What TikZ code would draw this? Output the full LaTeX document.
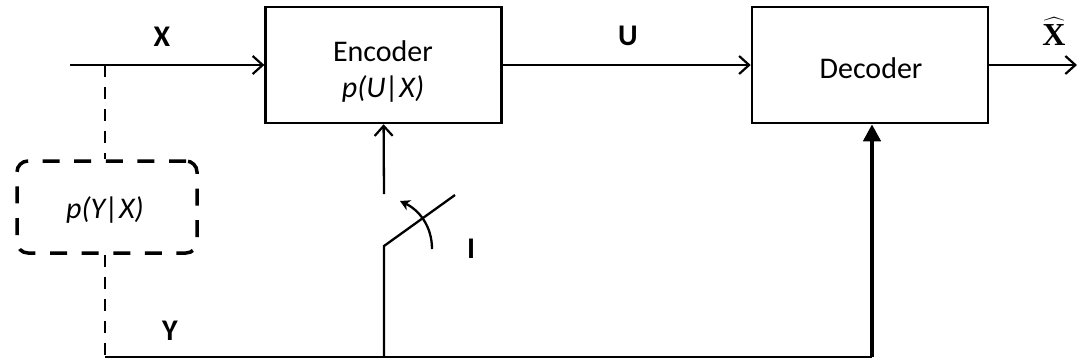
\documentclass[tikz,border=0pt]{standalone}
\usepackage{fontspec}
\setmainfont{Carlito}
\newfontfamily\hatserif{Liberation Serif}
\usetikzlibrary{arrows.meta}
\begin{document}
\begin{tikzpicture}[x=0.5pt,y=-0.5pt,
  box/.style={draw, line width=1.25pt, minimum width=118pt, minimum height=58pt, inner sep=0pt},
  dbox/.style={draw, line width=1.75pt, rounded corners=5.5pt, dash pattern=on 8.5pt off 7.3pt, minimum width=90pt, minimum height=46pt, inner sep=0pt},
  wire/.style={line width=1.15pt},
  arr/.style={wire, -{Straight Barb[length=5pt,width=9pt,line width=1.1pt]}},
  thickarr/.style={line width=2.4pt, -{Triangle[length=8.5pt,width=8.5pt]}},
  dsh/.style={line width=1.3pt, dash pattern=on 6pt off 5pt},
  lbl/.style={font=\fontsize{15}{18}\selectfont\bfseries, anchor=base, inner sep=0pt},
  txt/.style={font=\fontsize{15}{18}\selectfont, anchor=base, inner sep=0pt}]
\useasboundingbox (0,0) rectangle (1078,361);

% blocks
\node[box] (enc) at (383.6,65) {};
\node[box] (dec) at (870,65) {};
\node[dbox] (pyx) at (107,207) {};

% texts
\node[txt] (te) at (383,61) {Encoder};
\node[txt] (tp) at (383,97) {\itshape p(U|X)};
\node[txt] (td) at (871,78) {Decoder};
\node[txt] (tyx) at (105,218) {\itshape p(Y|X)};

% labels
\node[lbl] (lx) at (162,46) {X};
\node[lbl] (lu) at (628,45) {U};
\node[lbl] (ly) at (170,340) {Y};
\node[lbl] (li) at (471,258) {I};
\node[anchor=base, inner sep=0pt, font=\fontsize{16}{18}\selectfont] (lxh) at (1054,45) {$\widehat{\hbox{\hatserif\bfseries X}}$};

% coordinates
\coordinate (xin) at (70,65);
\coordinate (xj) at (105,65);
\coordinate (xout) at (1077,65);
\coordinate (ybus) at (105,357);
\coordinate (sw0) at (384,357);
\coordinate (sw1) at (384,246);
\coordinate (sw2) at (455,195);
\coordinate (swt) at (384,194);
\coordinate (a0) at (432,249);
\coordinate (a1) at (400,201);
\coordinate (dcor) at (872,357);

% connectors
\draw[arr] (xin) -- (enc.west);
\draw[arr] (enc.east) -- (dec.west);
\draw[arr] (dec.east) -- (xout);
\draw[dsh] (xj) -- (xj |- pyx.north);
\draw[dsh] (xj |- pyx.south) -- (ybus);
\draw[wire] (ybus) -- (dcor);
\draw[thickarr] (dcor) -- (dcor |- dec.south);
\draw[wire] (sw0) -- (sw1) -- (sw2);
\draw[arr] (swt) -- (enc.south);
\draw[wire, -{Stealth[length=5pt,width=5.5pt]}] (a0) .. controls (432,226) and (419,210) .. (a1);
\end{tikzpicture}
\end{document}
